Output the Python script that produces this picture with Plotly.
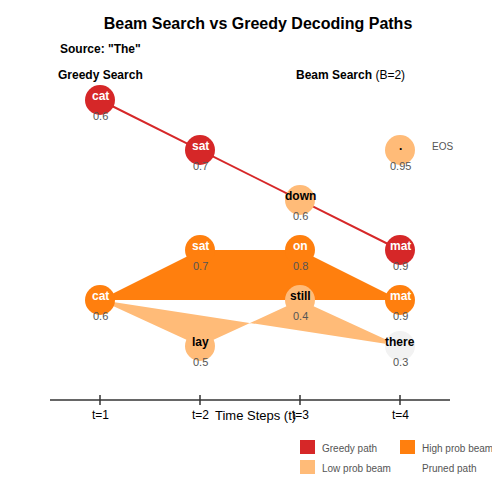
import plotly.graph_objects as go

steps = [1, 2, 3, 4]
step_labels = ["t=1", "t=2", "t=3", "t=4"]

greedy_tokens = ["cat", "sat", "down", "mat"]
greedy_probs = [0.6, 0.7, 0.6, 0.9]
greedy_y = [100, 150, 200, 250]
greedy_colors = ["#d62728", "#d62728", "#ffbb78", "#d62728"]

beam_steps = [1, 2, 3, 4, 2, 3, 4]
beam_tokens = ["cat", "sat", "on", "mat", "lay", "still", "there"]
beam_probs = [0.6, 0.7, 0.8, 0.9, 0.5, 0.4, 0.3]
beam_y = [300, 250, 250, 300, 346, 300, 346]
beam_colors = ["#ff7f0e", "#ff7f0e", "#ff7f0e", "#ff7f0e", "#ffbb78", "#ffbb78", "#f2f2f2"]

eos = {"step": 4, "y": 150, "token": ".", "prob": 0.95}

fig = go.Figure()

hi = [0, 1, 2, 3, 0]
fig.add_trace(go.Scatter(x=[beam_steps[i] for i in hi], y=[beam_y[i] for i in hi],
                         fill="toself", fillcolor="#ff7f0e", mode="none", hoverinfo="skip"))
lo = [0, 4, 5, 6, 0]
fig.add_trace(go.Scatter(x=[beam_steps[i] for i in lo], y=[beam_y[i] for i in lo],
                         fill="toself", fillcolor="#ffbb78", mode="none", hoverinfo="skip"))
fig.add_trace(go.Scatter(x=steps, y=greedy_y, mode="lines", line=dict(color="#d62728", width=2)))

def nodes(xs, ys, toks, probs, cols):
    fig.add_trace(go.Scatter(x=xs, y=ys, mode="markers", marker=dict(size=30, color=cols, line=dict(width=0))))
    for x, y, t, p, c in zip(xs, ys, toks, probs, cols):
        fc = "white" if c in ("#d62728", "#ff7f0e") else "black"
        fig.add_annotation(x=x, y=y - 4, text=f"<b>{t}</b>", showarrow=False,
                           font=dict(size=12, color=fc, family="Liberation Sans"))
        fig.add_annotation(x=x, y=y + 16, text=f"{p}", showarrow=False,
                           font=dict(size=11, color="#555", family="Liberation Sans"))

nodes([eos["step"]], [eos["y"]], [eos["token"]], [eos["prob"]], ["#ffbb78"])
nodes(steps, greedy_y, greedy_tokens, greedy_probs, greedy_colors)
nodes(beam_steps, beam_y, beam_tokens, beam_probs, beam_colors)

fig.add_annotation(x=4.3, y=146, text="EOS", showarrow=False, xanchor="left",
                   font=dict(size=10, color="#555"))

fig.add_shape(type="line", x0=0.5, x1=4.5, y0=400, y1=400, line=dict(color="#333", width=1.5))
for s, lab in zip(steps, step_labels):
    fig.add_shape(type="line", x0=s, x1=s, y0=395, y1=405, line=dict(color="#333", width=1.5))
    fig.add_annotation(x=s, y=415, text=lab, showarrow=False, font=dict(size=12, color="black"))
fig.add_annotation(x=2.55, y=415, text="Time Steps (t)", showarrow=False, font=dict(size=13, color="black"))

fig.add_annotation(x=1, y=75, text="<b>Greedy Search</b>", showarrow=False, font=dict(size=12, color="black"))
fig.add_annotation(x=3.5, y=75, text="<b>Beam Search</b> (B=2)", showarrow=False, font=dict(size=12, color="black"))

leg = [("Greedy path", "#d62728", 3.0, 447), ("High prob beam", "#ff7f0e", 4.0, 447),
       ("Low prob beam", "#ffbb78", 3.0, 467), ("Pruned path", "#ffffff", 4.0, 467)]
for name, col, lx, ly in leg:
    fig.add_shape(type="rect", x0=lx, x1=lx + 0.15, y0=ly - 7, y1=ly + 7, fillcolor=col, line=dict(width=0))
    fig.add_annotation(x=lx + 0.2, y=ly + 1, text=name, showarrow=False, xanchor="left",
                       font=dict(size=10, color="#555"))

fig.update_layout(
    width=500, height=500, showlegend=False,
    plot_bgcolor="white", paper_bgcolor="white",
    margin=dict(l=42, r=58, t=52, b=8),
    font=dict(family="Liberation Sans"),
    title=dict(text="<b>Beam Search vs Greedy Decoding Paths</b>", x=0.5, y=0.98, xanchor="center",
               font=dict(size=16, color="black")),
    xaxis=dict(range=[0.5, 4.5], visible=False, fixedrange=True),
    yaxis=dict(range=[500, 60], visible=False, fixedrange=True),
)
fig.add_annotation(xref="paper", yref="paper", x=0.02, y=1.005, xanchor="left", yanchor="bottom",
                   text="<b>Source: \"The\"</b>", showarrow=False, font=dict(size=12, color="black"))
fig.write_html("out.html")
